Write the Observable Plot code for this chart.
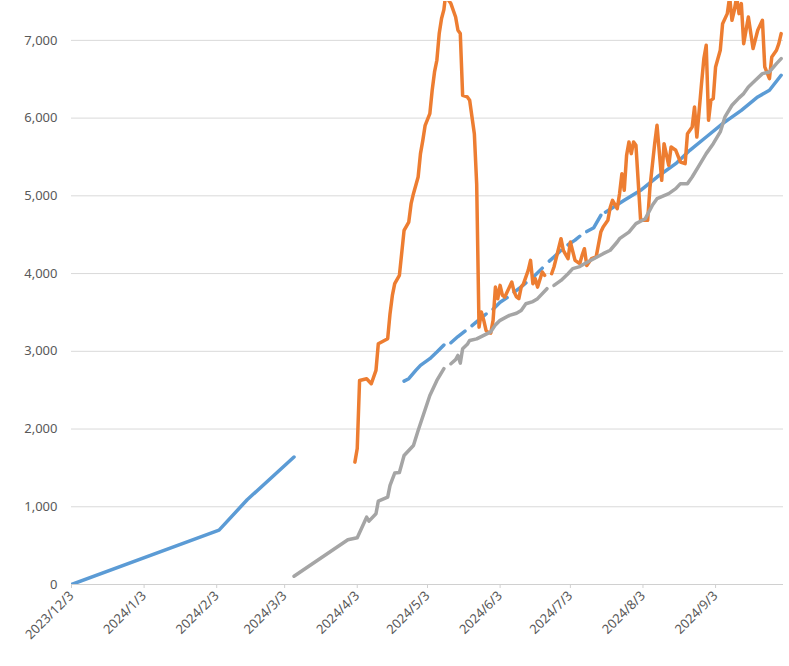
<!DOCTYPE html>
<html>
<head>
<meta charset="utf-8">
<script src="https://cdn.jsdelivr.net/npm/d3@7"></script>
<script src="https://cdn.jsdelivr.net/npm/@observablehq/plot@0.6"></script>
<style>
  html, body { margin: 0; padding: 0; background: #ffffff; }
  #chart { width: 789px; height: 666px; }
</style>
</head>
<body>
<div id="chart"></div>
<script>
// ---- data ----
const blueDates = ["2023-12-03","2024-02-04","2024-02-16","2024-03-07","2024-03-08",
  "2024-04-23","2024-04-25","2024-04-28","2024-04-30","2024-05-04","2024-05-07","2024-05-10","2024-05-11",
  "2024-05-13","2024-05-16","2024-05-19","2024-05-20",
  "2024-05-22","2024-05-26","2024-05-28","2024-05-29",
  "2024-05-31","2024-06-03","2024-06-06","2024-06-07",
  "2024-06-09","2024-06-12","2024-06-14","2024-06-15",
  "2024-06-17","2024-06-21","2024-06-22",
  "2024-06-24","2024-06-27","2024-06-29","2024-06-30",
  "2024-07-02","2024-07-05","2024-07-07","2024-07-08",
  "2024-07-10","2024-07-13","2024-07-16","2024-07-17",
  "2024-07-18","2024-07-26","2024-08-02","2024-08-09","2024-08-17","2024-08-23","2024-08-30",
  "2024-09-06","2024-09-14","2024-09-21","2024-09-26","2024-10-01"];
const blueValues = [0,700,1090,1640,null,
  2616,2647,2754,2819,2905,2990,3080,null,
  3110,3190,3260,null,
  3330,3430,3480,null,
  3540,3630,3690,null,
  3760,3830,3880,null,
  3950,4070,null,
  4160,4240,4300,null,
  4370,4430,4480,null,
  4540,4590,4750,null,
  4790,4942,5071,5242,5414,5586,5757,
  5929,6100,6272,6358,6551];

const orangeDates = ["2024-04-02","2024-04-03","2024-04-04","2024-04-07","2024-04-09","2024-04-11","2024-04-12",
  "2024-04-16","2024-04-17","2024-04-18","2024-04-19","2024-04-21","2024-04-23","2024-04-25","2024-04-26",
  "2024-04-27","2024-04-29","2024-04-30","2024-05-01","2024-05-02","2024-05-04","2024-05-05","2024-05-06",
  "2024-05-07","2024-05-08","2024-05-09","2024-05-10","2024-05-11","2024-05-12","2024-05-13","2024-05-15",
  "2024-05-16","2024-05-17","2024-05-18","2024-05-20","2024-05-21","2024-05-23","2024-05-24","2024-05-25",
  "2024-05-26","2024-05-27","2024-05-28","2024-05-29","2024-05-30","2024-05-31","2024-06-01","2024-06-02",
  "2024-06-03","2024-06-04","2024-06-05","2024-06-07","2024-06-08","2024-06-09","2024-06-10","2024-06-11",
  "2024-06-12","2024-06-13","2024-06-15","2024-06-16","2024-06-17","2024-06-18","2024-06-19","2024-06-21",
  "2024-06-22","2024-06-23","2024-06-25","2024-06-26","2024-06-29","2024-06-30","2024-07-02","2024-07-03",
  "2024-07-05","2024-07-07","2024-07-08","2024-07-09","2024-07-10","2024-07-12","2024-07-14","2024-07-16",
  "2024-07-17","2024-07-19","2024-07-20","2024-07-21","2024-07-23","2024-07-24","2024-07-25","2024-07-26",
  "2024-07-27","2024-07-28","2024-07-29","2024-07-30","2024-07-31","2024-08-02","2024-08-05","2024-08-06",
  "2024-08-08","2024-08-09","2024-08-11","2024-08-12","2024-08-14","2024-08-15","2024-08-17","2024-08-19",
  "2024-08-21","2024-08-22","2024-08-24","2024-08-25","2024-08-26","2024-08-27","2024-08-28","2024-08-29",
  "2024-08-30","2024-08-31","2024-09-01","2024-09-02","2024-09-03","2024-09-05","2024-09-06","2024-09-08",
  "2024-09-09","2024-09-10","2024-09-11","2024-09-12","2024-09-13","2024-09-14","2024-09-15","2024-09-17",
  "2024-09-19","2024-09-21","2024-09-23","2024-09-24","2024-09-26","2024-09-27","2024-09-29","2024-09-30",
  "2024-10-01"];
const orangeValues = [1574,1750,2625,2647,2583,2754,3098,
  3162,3484,3719,3870,3977,4556,4663,4899,
  5028,5242,5543,5714,5907,6058,6358,6594,
  6744,7087,7281,7396,7650,7516,7473,7301,
  7130,7087,6293,6272,6229,5800,5150,3311,
  3505,3400,3269,3240,3234,3398,3826,3677,
  3848,3719,3698,3826,3891,3762,3700,3677,
  3826,3870,4041,4170,3870,3934,3826,4020,
  3977,null,3998,4084,4449,4298,4191,4406,
  4170,4127,4234,4320,4105,4191,4213,4534,
  4600,4685,4850,4942,4835,5028,5285,5071,
  5521,5693,5543,5693,5650,4685,4685,5114,
  5671,5907,5200,5671,5393,5629,5586,5435,
  5414,5800,5886,6143,5757,6100,6444,6765,
  6937,5972,6229,6251,6658,6873,7215,7344,
  7560,7259,7387,7560,7344,7473,6958,7301,
  6894,7130,7259,6658,6508,6787,6873,6958,
  7087];

const grayDates = ["2024-03-07","2024-03-30","2024-04-03","2024-04-07","2024-04-08","2024-04-11","2024-04-12",
  "2024-04-16","2024-04-17","2024-04-19","2024-04-21","2024-04-23","2024-04-27","2024-04-29","2024-05-04",
  "2024-05-07","2024-05-10","2024-05-11","2024-05-13","2024-05-15","2024-05-16","2024-05-17","2024-05-18",
  "2024-05-20","2024-05-21","2024-05-24","2024-05-27","2024-05-30","2024-06-01","2024-06-03","2024-06-07",
  "2024-06-10","2024-06-12","2024-06-14","2024-06-17","2024-06-19","2024-06-23","2024-06-24","2024-06-26",
  "2024-06-29","2024-07-02","2024-07-04","2024-07-07","2024-07-09","2024-07-13","2024-07-17","2024-07-20",
  "2024-07-23","2024-07-24","2024-07-28","2024-07-31","2024-08-04","2024-08-07","2024-08-09","2024-08-11",
  "2024-08-14","2024-08-17","2024-08-19","2024-08-22","2024-08-24","2024-08-27","2024-08-30","2024-09-02",
  "2024-09-05","2024-09-07","2024-09-10","2024-09-13","2024-09-15","2024-09-17","2024-09-20","2024-09-23",
  "2024-09-26","2024-09-29","2024-10-01"];
const grayValues = [107,575,601,866,815,910,1072,
  1124,1274,1433,1441,1660,1789,1982,2432,
  2625,2776,null,2840,2892,2947,2848,3033,
  3090,3140,3160,3205,3250,3340,3398,3462,
  3490,3526,3612,3640,3677,3805,null,3848,
  3912,3998,4063,4090,4127,4191,4256,4300,
  4406,4449,4534,4642,4706,4878,4964,4990,
  5028,5092,5157,5157,5242,5393,5543,5671,
  5822,6015,6165,6260,6315,6401,6487,6572,
  6594,6701,6765];

const xTickLabels = ["2023/12/3","2024/1/3","2024/2/3","2024/3/3","2024/4/3","2024/5/3",
  "2024/6/3","2024/7/3","2024/8/3","2024/9/3"];
const yTicks = [0,1000,2000,3000,4000,5000,6000,7000];

// ---- build ----
const parse = s => new Date(s + "T00:00:00Z");
const toRows = (dates, values) => dates.map((d, i) => ({date: parse(d), value: values[i]}));
const blue = toRows(blueDates, blueValues);
const orange = toRows(orangeDates, orangeValues);
const gray = toRows(grayDates, grayValues);
const xTicks = xTickLabels.map(s => { const [y, m, d] = s.split("/").map(Number); return new Date(Date.UTC(y, m - 1, d)); });
const fmtDate = d => `${d.getUTCFullYear()}/${d.getUTCMonth() + 1}/${d.getUTCDate()}`;

const lineOpts = {x: "date", y: "value", strokeWidth: 3.5, strokeLinejoin: "round", strokeLinecap: "round", clip: true};

const chart = Plot.plot({
  width: 789,
  height: 666,
  marginTop: 1,
  marginRight: 6,
  marginBottom: 82,
  marginLeft: 71,
  style: {fontFamily: "'Noto Sans', 'Open Sans', sans-serif", fontSize: "13px", color: "#595959", background: "#ffffff"},
  x: {type: "utc", domain: [parse("2023-12-03"), parse("2024-10-02")]},
  y: {domain: [0, 7500]},
  marks: [
    Plot.gridY(yTicks, {stroke: "#d9d9d9", strokeOpacity: 1, strokeWidth: 1}),
    Plot.axisY(yTicks, {tickSize: 0, tickPadding: 14, tickFormat: d3.format(","), label: null}),
    Plot.ruleY([0], {stroke: "#d0d0d0", strokeWidth: 1}),
    Plot.axisX(xTicks, {tickSize: 4, tickPadding: 5, tickRotate: -45, tickFormat: fmtDate, label: null, stroke: "#d0d0d0"}),
    Plot.line(blue, {...lineOpts, stroke: "#5B9BD5"}),
    Plot.line(orange, {...lineOpts, stroke: "#ED7D31"}),
    Plot.line(gray, {...lineOpts, stroke: "#A5A5A5"})
  ]
});
document.getElementById("chart").appendChild(chart);
</script>
</body>
</html>
